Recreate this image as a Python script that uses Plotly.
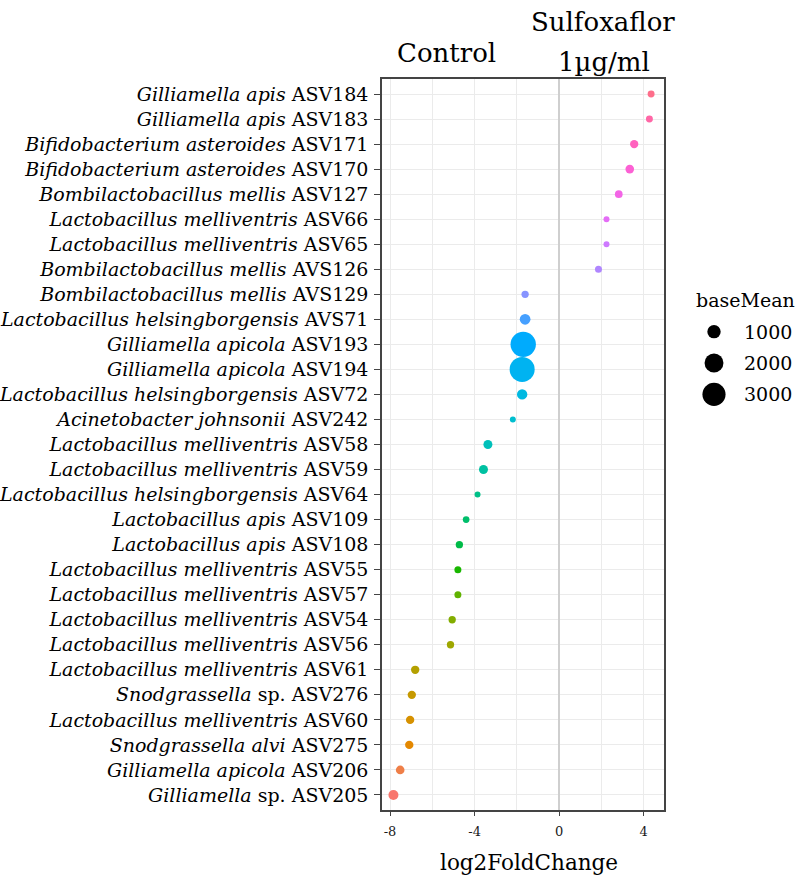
import math
import plotly.graph_objects as go

# ---------------- data (top row first, as in the picture) ----------------
taxa = [
    "Gilliamella apis", "Gilliamella apis", "Bifidobacterium asteroides",
    "Bifidobacterium asteroides", "Bombilactobacillus mellis",
    "Lactobacillus melliventris", "Lactobacillus melliventris",
    "Bombilactobacillus mellis", "Bombilactobacillus mellis",
    "Lactobacillus helsingborgensis", "Gilliamella apicola", "Gilliamella apicola",
    "Lactobacillus helsingborgensis", "Acinetobacter johnsonii",
    "Lactobacillus melliventris", "Lactobacillus melliventris",
    "Lactobacillus helsingborgensis", "Lactobacillus apis", "Lactobacillus apis",
    "Lactobacillus melliventris", "Lactobacillus melliventris",
    "Lactobacillus melliventris", "Lactobacillus melliventris",
    "Lactobacillus melliventris", "Snodgrassella", "Lactobacillus melliventris",
    "Snodgrassella alvi", "Gilliamella apicola", "Gilliamella",
]
asv_ids = [
    "ASV184", "ASV183", "ASV171", "ASV170", "ASV127", "ASV66", "ASV65", "AVS126",
    "AVS129", "AVS71", "ASV193", "ASV194", "ASV72", "ASV242", "ASV58", "ASV59",
    "ASV64", "ASV109", "ASV108", "ASV55", "ASV57", "ASV54", "ASV56", "ASV61",
    "sp. ASV276", "ASV60", "ASV275", "ASV206", "sp. ASV205",
]
log2_fold_change = [
    4.35, 4.27, 3.55, 3.34, 2.82, 2.24, 2.24, 1.86, -1.61, -1.61, -1.70, -1.75,
    -1.75, -2.19, -3.37, -3.58, -3.86, -4.40, -4.72, -4.79, -4.79, -5.06, -5.14,
    -6.81, -6.97, -7.05, -7.09, -7.52, -7.84,
]
base_mean = [
    270, 270, 390, 420, 330, 200, 200, 275, 300, 640, 3600, 3500, 600, 200, 450,
    450, 200, 250, 300, 275, 275, 300, 300, 390, 390, 390, 390, 420, 560,
]
legend_values = [1000, 2000, 3000]
x_ticks = [-8, -4, 0, 4]

# ---------------- styling helpers ----------------
def hcl_hex(h, c=100.0, l=65.0):
    hr = math.radians(h)
    U, V = c * math.cos(hr), c * math.sin(hr)
    Y = 100.0 * ((l + 16) / 116) ** 3
    Xn, Yn, Zn = 95.047, 100.0, 108.883
    den = Xn + 15 * Yn + 3 * Zn
    un, vn = 4 * Xn / den, 9 * Yn / den
    u = U / (13 * l) + un
    v = V / (13 * l) + vn
    X = 9.0 * Y * u / (4 * v)
    Z = -X / 3 - 5 * Y + 3 * Y / v
    X, Y, Z = X / 100, Y / 100, Z / 100
    r = 3.240479 * X - 1.537150 * Y - 0.498535 * Z
    g = -0.969256 * X + 1.875992 * Y + 0.041556 * Z
    b = 0.055648 * X - 0.204043 * Y + 1.057311 * Z

    def gam(t):
        t = 1.055 * t ** (1 / 2.4) - 0.055 if t > 0.00304 else 12.92 * t
        return max(0, min(255, round(t * 255)))

    return "#%02X%02X%02X" % (gam(r), gam(g), gam(b))


n = len(taxa)
labels = [f"<i>{t}</i> {a}" for t, a in zip(taxa, asv_ids)]
order_bottom_up = labels[::-1]
# ggplot-like hue palette, first level (bottom) gets hue 15
palette = {lab: hcl_hex(15 + 360 * i / n) for i, lab in enumerate(order_bottom_up)}
colors = [palette[lab] for lab in labels]

SIZEREF = 11.2
SERIF = "DejaVu Serif"
W, H = 804, 884
ML, MR, MT, MB = 382, 4, 79, 74
PW, PH = W - ML - MR, H - MT - MB


def px_x(p):
    return (p - ML) / PW


def px_y(p):
    return 1 - (p - MT) / PH


fig = go.Figure()
fig.add_trace(go.Scatter(
    x=log2_fold_change, y=labels, mode="markers",
    marker=dict(size=base_mean, sizemode="area", sizeref=SIZEREF,
                color=colors, line=dict(width=0), opacity=1),
    showlegend=False, cliponaxis=False,
))
# size legend as a small panel
fig.add_trace(go.Scatter(
    x=[24] * len(legend_values), y=list(range(len(legend_values))), mode="markers",
    marker=dict(size=legend_values, sizemode="area", sizeref=SIZEREF,
                color="#000000", line=dict(width=0), opacity=1),
    xaxis="x2", yaxis="y2", showlegend=False, hoverinfo="skip",
))

annotations = []
for i, v in enumerate(legend_values):
    annotations.append(dict(x=52, y=i, xref="x2", yref="y2", text=str(v),
                            showarrow=False, xanchor="left", yanchor="middle",
                            font=dict(family=SERIF, size=19, color="black")))
annotations += [
    dict(x=px_x(694), y=px_y(300), xref="paper", yref="paper", text="baseMean",
         showarrow=False, xanchor="left", yanchor="middle",
         font=dict(family=SERIF, size=19, color="black")),
    dict(x=px_x(446), y=px_y(53), xref="paper", yref="paper", text="Control",
         showarrow=False, xanchor="center", yanchor="middle",
         font=dict(family=SERIF, size=26, color="black")),
    dict(x=px_x(603), y=px_y(22), xref="paper", yref="paper", text="Sulfoxaflor",
         showarrow=False, xanchor="center", yanchor="middle",
         font=dict(family=SERIF, size=26, color="black")),
    dict(x=px_x(604), y=px_y(62), xref="paper", yref="paper", text="1µg/ml",
         showarrow=False, xanchor="center", yanchor="middle",
         font=dict(family=SERIF, size=26, color="black")),
    dict(x=px_x(529), y=px_y(862), xref="paper", yref="paper", text="log2FoldChange",
         showarrow=False, xanchor="center", yanchor="middle",
         font=dict(family=SERIF, size=21.5, color="black")),
]

fig.update_layout(
    width=W, height=H,
    margin=dict(l=ML, r=MR, t=MT, b=MB, pad=0, autoexpand=False),
    paper_bgcolor="white", plot_bgcolor="white",
    xaxis=dict(domain=[0, px_x(664)], range=[-8.38, 4.96], tickvals=x_ticks,
               ticktext=[str(t) for t in x_ticks], automargin=False,
               showgrid=True, gridcolor="#EBEBEB", gridwidth=1.4,
               minor=dict(tickvals=[-6, -2, 2], showgrid=True, gridcolor="#EBEBEB",
                          gridwidth=1.1, ticks=""),
               zeroline=True, zerolinecolor="#CFCFCF", zerolinewidth=1.8,
               showline=True, mirror=True, linecolor="#444444", linewidth=1.5,
               ticks="outside", ticklen=4, tickwidth=1.3, tickcolor="#444444",
               ticklabelstandoff=5,
               tickfont=dict(family=SERIF, size=13, color="#1a1a1a"),
               fixedrange=True),
    yaxis=dict(type="category", categoryorder="array", categoryarray=order_bottom_up,
               range=[-0.6, n - 0.4], automargin=False,
               showgrid=True, gridcolor="#EBEBEB", gridwidth=1.4,
               showline=True, mirror=True, linecolor="#444444", linewidth=1.5,
               ticks="outside", ticklen=6, tickwidth=1.3, tickcolor="#444444",
               ticklabelstandoff=2,
               tickfont=dict(family=SERIF, size=19, color="black"),
               fixedrange=True),
    xaxis2=dict(domain=[px_x(690), 1], range=[0, 110], visible=False,
                anchor="y2", fixedrange=True, automargin=False),
    yaxis2=dict(domain=[px_y(410), px_y(316)], range=[2.5, -0.5], visible=False,
                anchor="x2", fixedrange=True, automargin=False),
    annotations=annotations,
)

fig.write_html("out.html")
